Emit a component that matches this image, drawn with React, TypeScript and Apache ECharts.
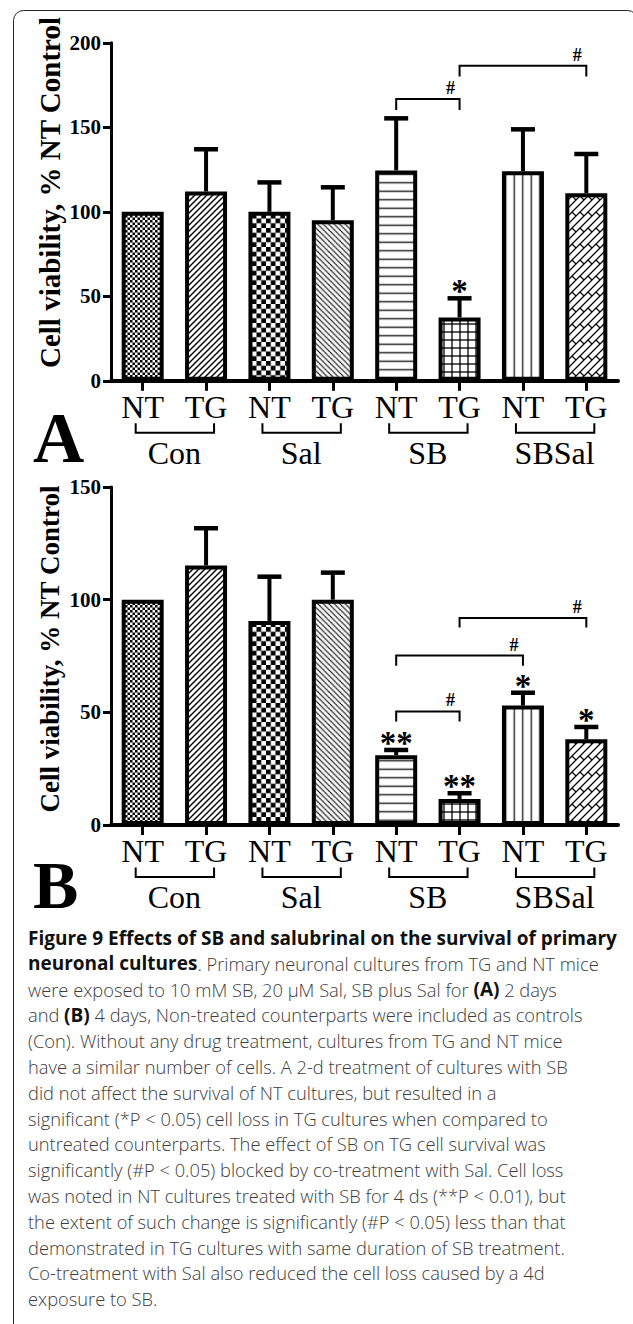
import React, { useEffect, useRef } from "react";
import * as echarts from "echarts";

const SERIF = "'Liberation Serif', 'Times New Roman', Times, serif";
const SANS = "'Open Sans', 'Noto Sans', sans-serif";

// ---- data ----
const categories = ["NT", "TG", "NT", "TG", "NT", "TG", "NT", "TG"];
const groups = ["Con", "Sal", "SB", "SBSal"];

const meansA = [100, 112, 100, 95, 124.5, 37.5, 124, 111];
const errorsA = [0, 25, 17.4, 19.5, 30.8, 11.3, 24.8, 23.2];
const starsA = ["", "", "", "", "", "*", "", ""];
// [fromCategory, toCategory, barValue, endValue]
const bracketsA = [
  [4, 5, 166.7, 160.2],
  [5, 7, 186.4, 180],
];

const meansB = [100, 115.2, 90.5, 100, 31, 11.5, 53, 38];
const errorsB = [0, 16.5, 19.7, 12, 2.3, 2.6, 5.7, 5.5];
const starsB = ["", "", "", "", "**", "**", "*", "*"];
const bracketsB = [
  [5, 7, 91.9, 87.6],
  [4, 6, 75.2, 70.7],
  [4, 5, 50.4, 45.9],
];

const yMaxA = 200;
const yMaxB = 150;
const yStep = 50;

const yTitle = "Cell viability, % NT Control";

const captionLines: [string, string][][] = [
  [["b", "Figure 9 Effects of SB and salubrinal on the survival of primary"]],
  [["b", "neuronal cultures"], ["r", ". Primary neuronal cultures from TG and NT mice"]],
  [["r", "were exposed to 10 mM SB, 20 μM Sal, SB plus Sal for "], ["b", "(A)"], ["r", " 2 days"]],
  [["r", "and "], ["b", "(B)"], ["r", " 4 days, Non-treated counterparts were included as controls"]],
  [["r", "(Con). Without any drug treatment, cultures from TG and NT mice"]],
  [["r", "have a similar number of cells. A 2-d treatment of cultures with SB"]],
  [["r", "did not affect the survival of NT cultures, but resulted in a"]],
  [["r", "significant (*P < 0.05) cell loss in TG cultures when compared to"]],
  [["r", "untreated counterparts. The effect of SB on TG cell survival was"]],
  [["r", "significantly (#P < 0.05) blocked by co-treatment with Sal. Cell loss"]],
  [["r", "was noted in NT cultures treated with SB for 4 ds (**P < 0.01), but"]],
  [["r", "the extent of such change is significantly (#P < 0.05) less than that"]],
  [["r", "demonstrated in TG cultures with same duration of SB treatment."]],
  [["r", "Co-treatment with Sal also reduced the cell loss caused by a 4d"]],
  [["r", "exposure to SB."]],
];

// ---- patterns ----
function tile(T: number, draw: (ctx: CanvasRenderingContext2D, T: number) => void) {
  const S = 4;
  const c = document.createElement("canvas");
  c.width = Math.round(T * S);
  c.height = Math.round(T * S);
  const ctx = c.getContext("2d")!;
  ctx.scale(c.width / T, c.height / T);
  ctx.fillStyle = "#fff";
  ctx.fillRect(0, 0, T, T);
  ctx.fillStyle = "#000";
  ctx.strokeStyle = "#000";
  draw(ctx, T);
  return { image: c.toDataURL(), repeat: "repeat", imageWidth: T, imageHeight: T };
}
function seg(ctx: CanvasRenderingContext2D, T: number, x1: number, y1: number, x2: number, y2: number, w: number) {
  ctx.lineWidth = w;
  ctx.lineCap = "butt";
  for (const dx of [-T, 0, T]) {
    for (const dy of [-T, 0, T]) {
      ctx.beginPath();
      ctx.moveTo(x1 + dx, y1 + dy);
      ctx.lineTo(x2 + dx, y2 + dy);
      ctx.stroke();
    }
  }
}
function makePatterns() {
  const fineCheck = tile(5, (ctx, T) => {
    ctx.fillRect(0, 0, T / 2, T / 2);
    ctx.fillRect(T / 2, T / 2, T / 2, T / 2);
  });
  const diagUp = tile(6, (ctx, T) => seg(ctx, T, 0, T, T, 0, 1.4));
  const coarseCheck = tile(9.5, (ctx, T) => {
    ctx.fillRect(0, 0, T / 2, T / 2);
    ctx.fillRect(T / 2, T / 2, T / 2, T / 2);
  });
  const diagDown = tile(5.5, (ctx, T) => seg(ctx, T, 0, 0, T, T, 1.1));
  const horiz = tile(8.5, (ctx, T) => seg(ctx, T, 0, T / 2, T, T / 2, 1.4));
  const grid = tile(8, (ctx, T) => {
    seg(ctx, T, 0, T / 2, T, T / 2, 1.3);
    seg(ctx, T, T / 2, 0, T / 2, T, 1.3);
  });
  const vert = tile(8.5, (ctx, T) => seg(ctx, T, T / 2, 0, T / 2, T, 1.3));
  const weave = tile(16, (ctx, T) => {
    seg(ctx, T, 0, 8, 8, 0, 1.3);
    seg(ctx, T, 0, 16, 16, 0, 1.3);
    seg(ctx, T, 8, 16, 16, 8, 1.3);
    seg(ctx, T, 4, 4, 8, 8, 1.3);
    seg(ctx, T, 12, 4, 16, 8, 1.3);
  });
  return [fineCheck, diagUp, coarseCheck, diagDown, horiz, grid, vert, weave];
}

function nb(s: string) {
  return s.replace(/^ +/, (m) => "\u00a0".repeat(m.length)).replace(/ +$/, (m) => "\u00a0".repeat(m.length));
}

export default function App() {
  const ref = useRef<HTMLDivElement>(null);
  useEffect(() => {
    if (!ref.current) return;
    const chart = echarts.init(ref.current, null, { renderer: "svg" });
    const patterns = makePatterns();

    const grids = [
      { left: 111, top: 42.8, width: 507, height: 338 },
      { left: 111, top: 487, width: 507, height: 338 },
    ];

    const xAxis = [0, 1].map((g) => ({
      type: "category",
      gridIndex: g,
      data: categories,
      axisLine: { show: true, onZero: false, lineStyle: { color: "#000", width: 4 } },
      axisTick: { show: true, alignWithLabel: true, length: 10, lineStyle: { color: "#000", width: 3 } },
      axisLabel: { interval: 0, margin: 10, color: "#000", fontFamily: SERIF, fontSize: 32 },
      splitLine: { show: false },
    }));
    const yAxis = [yMaxA, yMaxB].map((mx, g) => ({
      type: "value",
      gridIndex: g,
      min: 0,
      max: mx,
      interval: yStep,
      axisLine: { show: true, lineStyle: { color: "#000", width: 3 } },
      axisTick: { show: true, length: 8, lineStyle: { color: "#000", width: 3 } },
      axisLabel: { margin: 10, color: "#000", fontFamily: SERIF, fontWeight: "bold", fontSize: 21 },
      splitLine: { show: false },
    }));

    const barSeries = (g: number, means: number[]) => ({
      type: "bar",
      xAxisIndex: g,
      yAxisIndex: g,
      barWidth: 42,
      z: 2,
      silent: true,
      itemStyle: { borderColor: "#000", borderWidth: 4 },
      data: means.map((v, i) => ({ value: v, itemStyle: { color: patterns[i] } })),
    });

    const errSeries = (g: number, means: number[], errs: number[], stars: string[]) => ({
      type: "custom",
      xAxisIndex: g,
      yAxisIndex: g,
      clip: false,
      z: 5,
      silent: true,
      encode: { x: 0, y: [1, 2] },
      data: means.map((m, i) => [i, m, errs[i]]),
      renderItem: (params: any, api: any) => {
        const i = api.value(0);
        const m = api.value(1);
        const e = api.value(2);
        const base = api.coord([i, m]);
        const top = api.coord([i, m + e]);
        const children: any[] = [];
        if (e > 0) {
          children.push({
            type: "line",
            shape: { x1: base[0], y1: base[1], x2: top[0], y2: top[1] },
            style: { stroke: "#000", lineWidth: 4 },
          });
          children.push({
            type: "line",
            shape: { x1: top[0] - 12, y1: top[1], x2: top[0] + 12, y2: top[1] },
            style: { stroke: "#000", lineWidth: 4.5 },
          });
        }
        const mark = stars[params.dataIndex];
        if (mark) {
          children.push({
            type: "text",
            x: top[0],
            y: top[1] - 7,
            style: {
              text: mark,
              align: "center",
              verticalAlign: "middle",
              fontFamily: SERIF,
              fontWeight: "bold",
              fontSize: 33,
              fill: "#000",
            },
          });
        }
        return { type: "group", children };
      },
    });

    const bracketSeries = (g: number, brackets: number[][]) => ({
      type: "custom",
      xAxisIndex: g,
      yAxisIndex: g,
      clip: false,
      z: 6,
      silent: true,
      encode: { x: [0, 1], y: [2, 3] },
      data: brackets,
      renderItem: (params: any, api: any) => {
        const x1 = api.value(0);
        const x2 = api.value(1);
        const y = api.value(2);
        const d = api.value(3);
        const p1 = api.coord([x1, y]);
        const p2 = api.coord([x2, y]);
        const q1 = api.coord([x1, d]);
        const q2 = api.coord([x2, d]);
        return {
          type: "group",
          children: [
            {
              type: "polyline",
              shape: { points: [[q1[0], q1[1]], [p1[0], p1[1]], [p2[0], p2[1]], [q2[0], q2[1]]] },
              style: { stroke: "#000", lineWidth: 2, fill: "none" },
            },
            {
              type: "text",
              x: p2[0] - 9,
              y: p2[1] - 11,
              style: {
                text: "#",
                align: "center",
                verticalAlign: "middle",
                fontFamily: SERIF,
                fontWeight: "bold",
                fontSize: 18,
                fill: "#000",
              },
            },
          ],
        };
      },
    });

    const groupSeries = (g: number) => ({
      type: "custom",
      xAxisIndex: g,
      yAxisIndex: g,
      clip: false,
      z: 6,
      silent: true,
      encode: { x: [0, 1] },
      data: groups.map((_, i) => [2 * i, 2 * i + 1]),
      renderItem: (params: any, api: any) => {
        const a = api.coord([api.value(0), 0]);
        const b = api.coord([api.value(1), 0]);
        const y0 = a[1];
        const xl = a[0] - 7;
        const xr = b[0] + 8;
        return {
          type: "group",
          children: [
            {
              type: "polyline",
              shape: { points: [[xl, y0 + 42.5], [xl, y0 + 52], [xr, y0 + 52], [xr, y0 + 42.5]] },
              style: { stroke: "#000", lineWidth: 2, fill: "none" },
            },
            {
              type: "text",
              x: (a[0] + b[0]) / 2,
              y: y0 + 72,
              style: {
                text: groups[params.dataIndex],
                align: "center",
                verticalAlign: "middle",
                fontFamily: SERIF,
                fontSize: 32,
                fill: "#000",
              },
            },
          ],
        };
      },
    });

    const richStyles = {
      b: { fontFamily: SANS, fontWeight: "bold", fontSize: 19, fill: "#111" },
      r: { fontFamily: SANS, fontWeight: 300, fontSize: 18.3, fill: "#3c3c3c" },
    };
    const captionGraphics = captionLines.map((line, i) => ({
      type: "text",
      x: 28,
      y: 937.5 + 25.8 * i,
      silent: true,
      style: {
        text: line.map(([k, s]) => `{${k}|${nb(s)}}`).join(""),
        rich: richStyles,
        align: "left",
        verticalAlign: "middle",
        fontFamily: SANS,
        fontSize: 19,
        fill: "#3c3c3c",
      },
    }));

    const titleStyle = (size: number) => ({
      text: yTitle,
      align: "center",
      verticalAlign: "middle",
      fontFamily: SERIF,
      fontWeight: "bold",
      fontSize: size,
      fill: "#000",
    });

    const option: any = {
      animation: false,
      backgroundColor: "#fff",
      grid: grids,
      xAxis,
      yAxis,
      series: [
        barSeries(0, meansA),
        errSeries(0, meansA, errorsA, starsA),
        bracketSeries(0, bracketsA),
        groupSeries(0),
        barSeries(1, meansB),
        errSeries(1, meansB, errorsB, starsB),
        bracketSeries(1, bracketsB),
        groupSeries(1),
      ],
      graphic: [
        {
          type: "rect",
          silent: true,
          z: -10,
          shape: { x: 13.5, y: 10.5, width: 624, height: 1400, r: 10 },
          style: { fill: "none", stroke: "#222", lineWidth: 1 },
        },
        { type: "text", x: 50, y: 192.5, rotation: Math.PI / 2, silent: true, style: titleStyle(29) },
        { type: "text", x: 50, y: 649, rotation: Math.PI / 2, silent: true, style: titleStyle(27) },
        {
          type: "text",
          x: 33,
          y: 438,
          silent: true,
          style: { text: "A", align: "left", verticalAlign: "middle", fontFamily: SERIF, fontWeight: "bold", fontSize: 71, fill: "#000" },
        },
        {
          type: "text",
          x: 33,
          y: 885,
          silent: true,
          style: { text: "B", align: "left", verticalAlign: "middle", fontFamily: SERIF, fontWeight: "bold", fontSize: 68, fill: "#000" },
        },
        ...captionGraphics,
      ],
    };
    chart.setOption(option);
    return () => chart.dispose();
  }, []);
  return (
    <div
      ref={ref}
      style={{ position: "absolute", left: 0, top: 0, width: 633, height: 1324, background: "#fff" }}
    />
  );
}
